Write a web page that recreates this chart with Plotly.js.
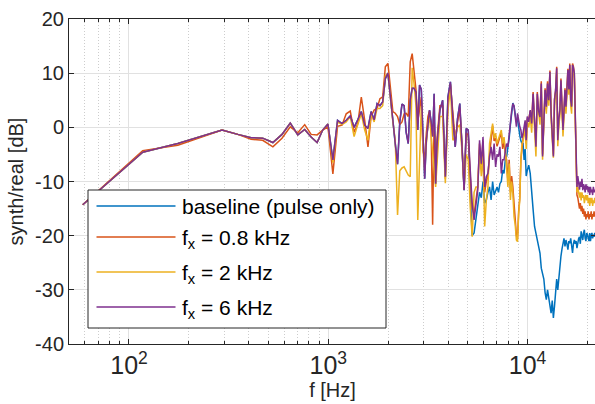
<!DOCTYPE html>
<html><head><meta charset="utf-8">
<script src="https://cdn.plot.ly/plotly-3.0.1.min.js"></script>
<style>html,body{margin:0;padding:0;overflow:hidden;background:#fff;width:595px;height:404px}#chart{width:598px;height:404px}</style>
</head><body><div id="chart"></div>
<script>
// frequency bins (Hz per bin) and which bins are plotted: [first, last, step]
const DF = 58.59;
const binSegments = [[1, 60, 1], [62, 170, 2], [173, 374, 3]];

const seriesNames = ['baseline (pulse only)', 'f<sub>x</sub> = 0.8 kHz', 'f<sub>x</sub> = 2 kHz', 'f<sub>x</sub> = 6 kHz'];
const seriesColors = ['#0072BD', '#D95319', '#EDB120', '#7E2F8E'];

const baseline = [
-14.3,-4.6,-3.0,-1.6,-0.5,-1.3,-1.9,-2.0,-2.8,-1.3,
0.8,-1.4,-0.4,-1.8,-2.8,-0.5,0.6,-6.0,1.3,0.7,
1.3,2.1,0.0,1.4,2.9,0.4,-0.2,2.9,1.4,4.4,
4.0,4.7,9.0,10.0,5.0,1.3,-3.0,-6.8,1.0,4.3,
4.0,-1.0,-3.0,5.0,7.2,7.2,6.5,-0.5,7.8,7.0,
-1.5,-9.5,-2.4,1.0,3.2,1.0,-1.7,6.2,-10.4,-3.0,
3.2,5.0,-9.1,5.6,8.4,1.6,-3.6,1.6,4.4,-3.6,
-11.6,-0.2,-0.5,-12.0,-20.0,-19.5,-17.0,-15.0,-12.0,-13.0,
-10.0,-14.0,-13.4,-12.0,-11.0,-13.4,-10.0,-12.5,-11.6,-11.0,
-12.0,-10.4,-10.0,-7.9,-8.5,-6.0,-5.4,-4.0,-2.0,0.5,
3.0,4.5,3.8,2.0,1.0,1.5,-0.5,-1.5,-2.5,-3.0,
-3.0,-6.0,-4.0,-9.0,-8.0,
-7.0,-8.5,-13.0,-15.2,-18.3,-19.5,-21.0,-22.0,-23.2,-26.0,
-27.0,-28.0,-30.5,-31.8,-30.0,-31.5,-33.5,-34.3,-32.0,-35.2,
-33.0,-30.5,-28.0,-30.0,-27.5,-26.0,-23.8,-22.5,-21.4,-20.5,
-22.0,-20.8,-21.5,-22.6,-21.0,-21.4,-20.5,-22.0,-23.2,-21.5,
-20.8,-21.5,-21.0,-22.3,-21.0,-20.5,-20.2,-21.5,-19.2,-20.0,
-20.8,-19.5,-18.9,-20.5,-21.0,-19.5,-19.8,-20.5,-21.0,-19.5,
-21.0,-20.0,-19.5,-20.5,-19.8,-20.2,-19.5,-20.0
];

const fx08 = [
-14.3,-4.3,-3.3,-1.7,-0.5,-1.3,-2.2,-2.4,-3.6,-2.0,
0.1,-1.0,0.5,-1.3,-1.4,-0.5,0.1,-8.6,0.2,0.4,
2.5,3.0,-0.9,0.7,5.6,1.3,-3.6,2.0,3.2,3.5,
5.3,5.6,11.2,11.8,7.0,2.9,2.6,2.0,0.5,1.0,
2.5,2.6,2.0,12.1,13.6,10.6,7.0,1.0,3.0,5.6,
-4.2,-6.0,-1.0,2.0,3.0,0.0,-18.0,2.0,-10.0,-2.0,
4.0,4.0,-9.5,4.5,8.0,2.0,-2.5,1.0,3.5,-3.0,
-11.5,-1.0,-1.5,-9.0,-15.0,-16.0,-13.0,-11.0,-3.0,-7.0,
-2.5,-12.0,-10.0,-9.0,-5.0,-2.0,0.3,-2.5,-2.0,-3.5,
-2.5,-1.5,-1.0,-4.0,-2.5,-5.0,-6.0,-10.0,-6.0,-12.0,
-9.0,-11.0,-15.0,-17.0,-20.0,-20.5,-15.5,-13.0,-6.0,-3.0,
-2.0,-1.0,0.8,-3.0,1.5,
1.5,3.0,1.0,6.5,1.0,-3.0,6.5,2.5,2.2,8.5,
-5.0,2.2,7.2,3.5,8.5,4.8,10.5,2.8,-2.2,-5.0,
5.2,6.8,11.2,-2.0,1.2,3.5,9.0,3.8,-0.2,3.2,
7.2,3.5,8.3,10.8,6.8,11.8,4.8,4.0,11.8,11.2,
9.8,1.5,-7.0,-12.5,-13.0,-14.5,-15.0,-14.0,-15.5,-14.5,
-16.0,-15.0,-16.5,-15.5,-17.0,-16.0,-16.5,-15.5,-17.0,-16.0,
-16.5,-15.5,-17.0,-16.0,-16.5,-15.5,-16.5,-16.0
];

const fx2 = [
-14.3,-4.6,-3.0,-1.6,-0.5,-1.3,-1.9,-2.0,-2.8,-1.3,
0.8,-1.4,-0.4,-1.8,-2.8,-0.5,0.6,-6.5,1.0,0.5,
1.0,2.0,-1.7,0.5,2.5,-0.5,-2.4,2.5,1.0,3.5,
3.5,4.0,9.5,10.0,5.0,1.0,-2.4,-16.2,-8.0,-7.5,
-7.3,-8.0,-8.8,-9.1,11.0,8.0,4.0,-17.1,-5.0,4.0,
-4.0,-8.0,-3.0,0.5,2.0,-2.0,-4.8,-7.9,-11.0,-6.0,
2.0,2.0,-10.3,3.0,7.5,-2.4,-1.7,0.0,0.5,-4.2,
-11.0,-5.0,-6.0,-14.7,-20.2,-12.0,-11.0,-11.0,-4.2,-9.0,
-5.4,-18.3,-13.4,-11.0,-3.0,-1.1,0.7,-2.0,-1.1,-3.0,
-2.0,-1.0,-0.5,-3.0,-1.8,-4.0,-7.0,-11.0,-6.7,-13.4,
-10.0,-12.2,-16.5,-18.0,-20.8,-21.1,-16.0,-13.4,-6.0,-3.0,
-2.5,-1.5,0.5,-4.0,1.0,
0.0,2.0,-1.0,5.0,0.0,-5.4,5.0,2.0,0.5,7.0,
-6.0,1.0,6.0,2.5,7.0,4.0,10.0,1.5,-3.0,-5.6,
4.0,6.0,10.0,-3.5,0.5,2.0,7.5,3.0,-1.7,2.0,
6.0,2.5,7.0,10.0,6.0,11.0,4.0,2.5,11.0,10.5,
9.0,1.0,-7.0,-12.0,-11.0,-12.5,-13.0,-12.0,-13.5,-12.0,
-13.0,-12.5,-14.0,-13.0,-12.5,-13.5,-12.5,-14.0,-13.0,-14.5,
-13.0,-14.0,-13.0,-14.5,-13.5,-14.0,-13.0,-14.0
];

const fx6 = [
-14.3,-4.6,-3.0,-1.6,-0.5,-1.3,-1.9,-2.0,-2.8,-1.3,
0.8,-1.4,-0.4,-1.8,-2.8,-0.5,0.6,-6.0,1.3,0.7,
1.3,2.1,0.0,1.4,2.9,0.4,-0.2,2.9,1.4,4.4,
4.0,4.7,9.0,10.0,5.0,1.3,-3.0,-6.8,1.0,4.3,
4.0,-1.0,-3.0,5.0,7.2,7.2,6.5,-0.5,7.8,7.0,
-1.5,-9.5,-2.4,1.0,3.2,1.0,-1.7,6.2,-10.4,-3.0,
3.2,5.0,-9.1,5.6,8.4,1.6,-3.6,1.6,4.4,-3.6,
-11.6,-0.2,-0.5,-7.9,-14.0,-17.1,-14.7,-11.6,-2.4,-6.7,
-1.8,-11.0,-9.1,-8.5,-5.4,-3.6,-6.0,-3.0,-7.3,-5.0,
-5.4,-3.6,-8.5,-6.0,-6.0,-4.0,-3.0,-3.6,-1.0,1.0,
3.0,4.4,4.0,2.0,0.1,2.6,1.0,0.1,-0.5,-2.0,
-1.1,0.5,1.3,-2.4,2.0,
1.0,3.2,0.7,6.2,1.3,-3.6,6.2,3.0,1.9,8.1,
-5.4,2.0,6.9,3.8,8.1,5.0,10.2,2.6,-2.0,-5.4,
5.0,7.0,10.9,-2.4,1.5,3.2,8.7,4.0,-0.5,3.0,
6.9,3.8,8.0,10.6,7.0,11.5,5.0,3.8,11.5,11.0,
10.0,2.0,-6.0,-11.0,-9.0,-10.5,-11.5,-10.0,-11.0,-9.5,
-11.6,-10.5,-11.0,-12.0,-10.5,-11.5,-10.8,-12.0,-11.0,-12.5,
-11.0,-12.0,-11.5,-12.5,-11.0,-12.0,-11.5,-12.0
];

const yTickVals = [-40, -30, -20, -10, 0, 10, 20];
const yTickText = ['-40', '-30', '-20', '-10', '0', '10', '20'];

// ---- build ----
const freq = [];
binSegments.forEach(([a, b, s]) => { for (let n = a; n <= b; n += s) freq.push(n * DF); });

const FONT = 'Liberation Sans, Arial, Helvetica, sans-serif';
const AX = '#262626';
const allSeries = [baseline, fx08, fx2, fx6];
const traces = allSeries.map((ys, i) => ({
  type: 'scatter', mode: 'lines', x: freq, y: ys, name: seriesNames[i],
  line: {color: seriesColors[i], width: 1.5}, showlegend: false, hoverinfo: 'skip'
}));

const W = 598, H = 404, ML = 69, MR = 2, MT = 19, MB = 60;
const PW = W - ML - MR, PH = H - MT - MB;
const px = x => (x - ML) / PW;
const py = y => (H - MB - y) / PH;

const legRows = [206, 237, 272, 307];
const shapes = [{type: 'rect', xref: 'paper', yref: 'paper', x0: px(88), x1: px(386), y0: py(328), y1: py(190),
  line: {color: AX, width: 1}, fillcolor: '#fff', layer: 'above'}];
const annotations = [];
legRows.forEach((ry, i) => {
  shapes.push({type: 'line', xref: 'paper', yref: 'paper', x0: px(96.5), x1: px(175.5), y0: py(ry), y1: py(ry),
    line: {color: seriesColors[i], width: 1.3}, layer: 'above'});
  annotations.push({xref: 'paper', yref: 'paper', x: px(180), y: py(ry + (i === 0 ? 0 : 2)), xanchor: 'left', yanchor: 'middle',
    showarrow: false, text: seriesNames[i], font: {family: FONT, size: 21, color: '#000'}});
});

const layout = {
  width: W, height: H, margin: {l: ML, r: MR, t: MT, b: MB},
  paper_bgcolor: '#fff', plot_bgcolor: '#fff',
  font: {family: FONT, size: 20, color: AX},
  showlegend: false,
  xaxis: {
    type: 'log', range: [Math.log10(50), Math.log10(22050)],
    tickmode: 'linear', tick0: 0, dtick: 1, exponentformat: 'power',
    ticks: 'inside', ticklen: 5, tickcolor: AX, tickwidth: 1,
    showline: true, linecolor: AX, linewidth: 1, mirror: 'ticks', zeroline: false,
    showgrid: true, gridcolor: '#e1e1e1', gridwidth: 1,
    minor: {dtick: 'D1', ticks: 'inside', ticklen: 3, tickcolor: AX, showgrid: true, griddash: '1px,2px', gridcolor: '#cdcdcd', gridwidth: 1},
    tickfont: {family: FONT, size: 20, color: AX},
    title: {text: 'f [Hz]', font: {family: FONT, size: 20, color: AX}, standoff: 4},
    automargin: false
  },
  yaxis: {
    range: [-40, 20], tickmode: 'array', tickvals: yTickVals, ticktext: yTickText,
    ticks: 'inside', ticklen: 5, tickcolor: AX, tickwidth: 1,
    showline: true, linecolor: AX, linewidth: 1, mirror: 'ticks', zeroline: false,
    showgrid: true, gridcolor: '#e1e1e1', gridwidth: 1,
    tickfont: {family: FONT, size: 20, color: AX},
    title: {text: 'synth/real [dB]', font: {family: FONT, size: 20, color: AX}, standoff: 6},
    automargin: false
  },
  shapes: shapes, annotations: annotations
};

Plotly.newPlot('chart', traces, layout, {staticPlot: true, displayModeBar: false});
</script></body></html>
